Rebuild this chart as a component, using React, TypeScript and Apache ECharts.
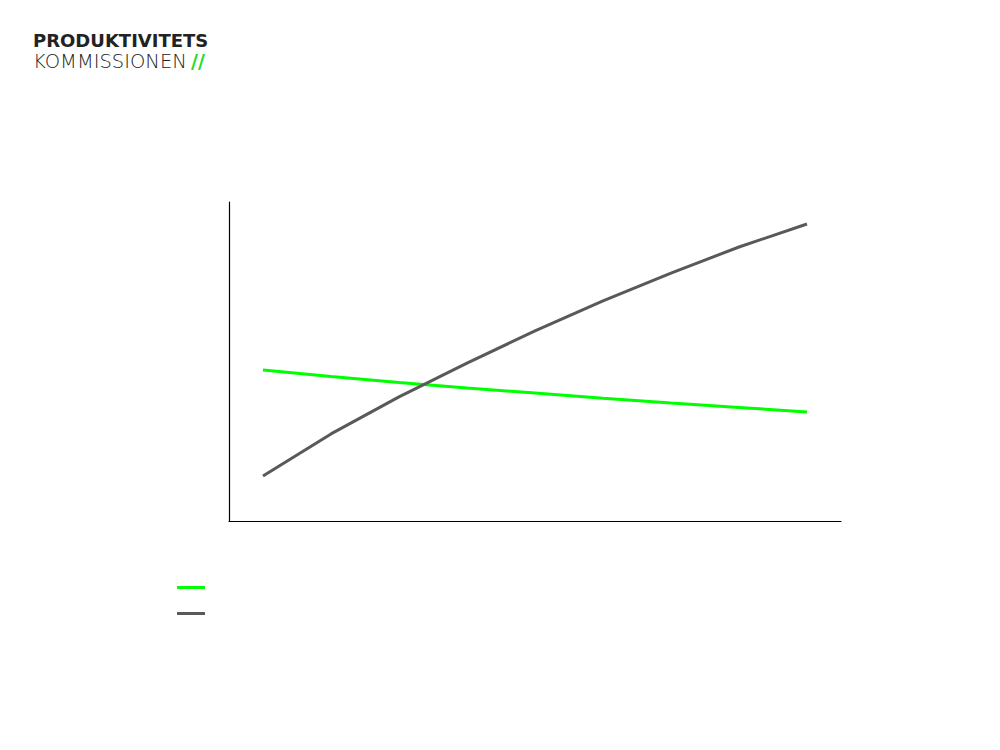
import React, { useEffect, useRef } from 'react';
import * as echarts from 'echarts';

// 9 categories, no labels shown in the reference
const categories = ['1', '2', '3', '4', '5', '6', '7', '8', '9'];
const seriesNames = ['Serie A', 'Serie B'];
const greenValues = [47.3, 45.3, 43.4, 41.7, 40.1, 38.5, 37.0, 35.6, 34.2];
const greyValues = [14.1, 27.3, 38.9, 49.5, 59.6, 69.0, 77.7, 85.9, 93.1];
const logoTop = 'PRODUKTIVITETS';
const logoBottom = 'KOMMISSIONEN';

const App: React.FC = () => {
  const chartRef = useRef<HTMLDivElement>(null);

  useEffect(() => {
    if (!chartRef.current) return;
    const chart = echarts.init(chartRef.current, undefined, { renderer: 'svg' });

    chart.setOption({
      animation: false,
      backgroundColor: '#ffffff',
      grid: { left: 229, right: 159, top: 202, bottom: 229 },
      legend: {
        orient: 'vertical',
        left: 172,
        top: 581,
        icon: 'rect',
        itemWidth: 28,
        itemHeight: 3,
        itemGap: 23,
        formatter: () => '',
        data: seriesNames
      },
      graphic: [
        {
          type: 'text',
          style: {
            x: 33,
            y: 40.5,
            text: logoTop,
            font: 'bold 18px "DejaVu Sans"',
            lineHeight: 17,
            fill: '#222222',
            textAlign: 'left',
            verticalAlign: 'middle'
          }
        },
        {
          type: 'text',
          style: {
            x: 33,
            y: 61,
            text: logoBottom,
            font: '200 19.5px "DejaVu Sans"',
            lineHeight: 18,
            fill: '#222222',
            textAlign: 'left',
            verticalAlign: 'middle'
          }
        },
        {
          type: 'text',
          style: {
            x: 191,
            y: 61,
            text: '//',
            font: 'bold 19px "DejaVu Sans"',
            lineHeight: 18,
            fill: '#22dd22',
            textAlign: 'left',
            verticalAlign: 'middle'
          }
        }
      ],
      xAxis: {
        type: 'category',
        data: categories,
        boundaryGap: true,
        axisLine: { lineStyle: { color: '#000000', width: 1.2 } },
        axisTick: { show: false },
        axisLabel: { show: false },
        splitLine: { show: false }
      },
      yAxis: {
        type: 'value',
        min: 0,
        max: 100,
        axisLine: { show: true, lineStyle: { color: '#000000', width: 1.2 } },
        axisTick: { show: false },
        axisLabel: { show: false },
        splitLine: { show: false }
      },
      series: [
        {
          name: seriesNames[0],
          type: 'line',
          data: greenValues,
          symbol: 'none',
          lineStyle: { color: '#00ff00', width: 3 },
          itemStyle: { color: '#00ff00' }
        },
        {
          name: seriesNames[1],
          type: 'line',
          data: greyValues,
          symbol: 'none',
          lineStyle: { color: '#595959', width: 3 },
          itemStyle: { color: '#595959' }
        }
      ]
    });

    return () => {
      chart.dispose();
    };
  }, []);

  return (
    <div
      ref={chartRef}
      style={{ position: 'fixed', left: 0, top: 0, width: '1000px', height: '750px' }}
    ></div>
  );
};

export default App;
